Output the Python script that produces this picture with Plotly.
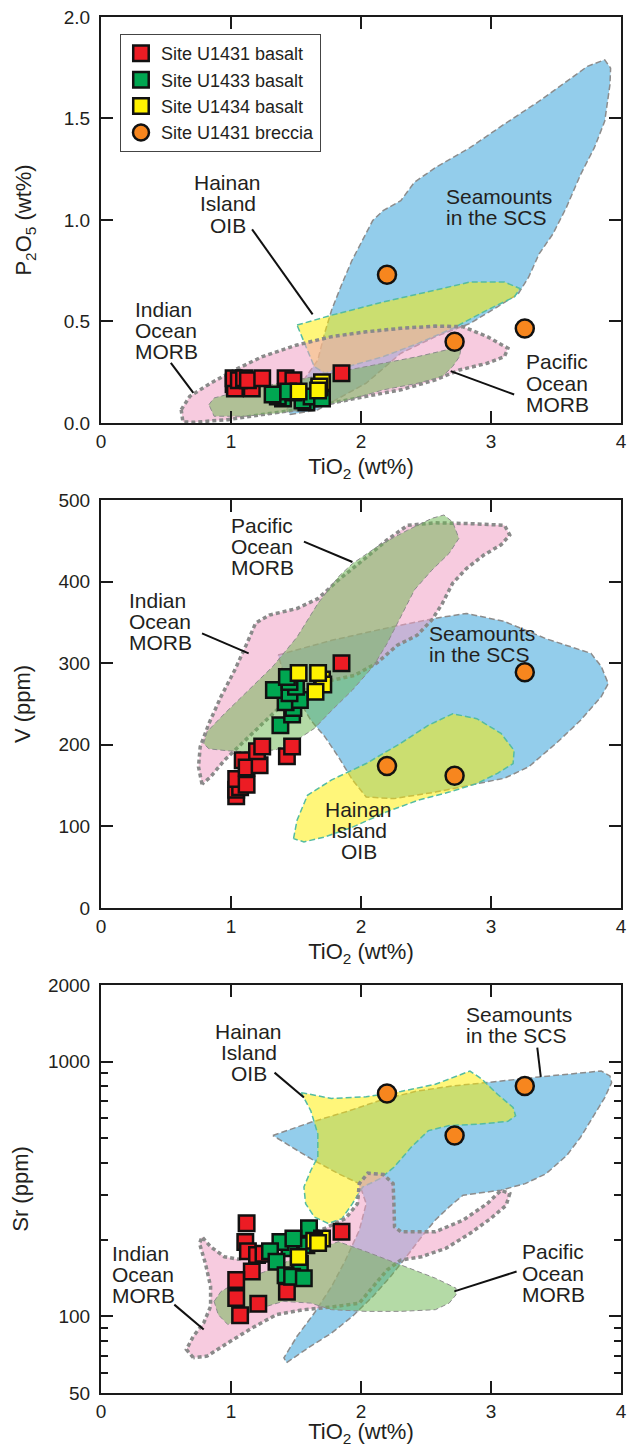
import numpy as np
import plotly.graph_objects as go

FONT = "Liberation Sans, Arial, Helvetica, sans-serif"
INK = "#231f20"

# ================= DATA =================
# ---- Panel 1: TiO2 (wt%) vs P2O5 (wt%) ----
p1_u1431_ti = [1.02, 1.03, 1.02, 1.16, 1.06, 1.10, 1.13, 1.24, 1.45, 1.42, 1.48, 1.85]
p1_u1431_p = [0.19, 0.17, 0.22, 0.17, 0.21, 0.22, 0.21, 0.22, 0.20, 0.22, 0.21, 0.245]
p1_u1433_ti = [1.58, 1.55, 1.40, 1.36, 1.32, 1.48, 1.44, 1.62, 1.70, 1.68]
p1_u1433_p = [0.10, 0.11, 0.12, 0.13, 0.14, 0.15, 0.155, 0.13, 0.12, 0.175]
p1_u1434_ti = [1.70, 1.68, 1.52, 1.67]
p1_u1434_p = [0.20, 0.18, 0.155, 0.16]
p1_brec_ti = [2.20, 2.72, 3.26]
p1_brec_p = [0.73, 0.40, 0.465]

p1_scs_ti = [1.455, 1.668, 2.04, 2.306, 2.572, 2.838, 3.05, 3.21, 3.29, 3.37, 3.476, 3.58, 3.69,
             3.795, 3.875, 3.915, 3.92, 3.875, 3.742, 3.58, 3.37, 3.10, 2.838, 2.572, 2.41, 2.306,
             2.17, 2.09, 2.01, 1.93, 1.854, 1.774, 1.72, 1.668, 1.56, 1.48, 1.43]
p1_scs_p = [0.041, 0.065, 0.196, 0.343, 0.425, 0.49, 0.572, 0.637, 0.719, 0.833, 0.931, 1.062, 1.225,
            1.356, 1.487, 1.667, 1.748, 1.789, 1.757, 1.683, 1.585, 1.471, 1.356, 1.258, 1.185, 1.095,
            1.046, 0.997, 0.899, 0.80, 0.686, 0.556, 0.441, 0.31, 0.212, 0.131, 0.065]
p1_hainan_ti = [1.508, 1.774, 2.173, 2.572, 2.838, 3.104, 3.223, 3.18, 2.97, 2.705, 2.439, 2.173,
                1.907, 1.72, 1.64, 1.574]
p1_hainan_p = [0.482, 0.531, 0.596, 0.654, 0.694, 0.694, 0.662, 0.621, 0.556, 0.466, 0.392, 0.327,
               0.278, 0.245, 0.278, 0.376]
p1_indian_ti = [0.617, 0.683, 0.843, 1.029, 1.242, 1.508, 1.774, 2.04, 2.306, 2.572, 2.785, 2.971,
                3.13, 3.104, 2.971, 2.758, 2.572, 2.306, 2.04, 1.774, 1.508, 1.242, 0.976, 0.71, 0.63]
p1_indian_p = [0.065, 0.131, 0.196, 0.261, 0.327, 0.384, 0.425, 0.449, 0.466, 0.477, 0.474, 0.425,
               0.368, 0.327, 0.294, 0.261, 0.212, 0.163, 0.131, 0.098, 0.065, 0.041, 0.016, 0.003, 0.005]
p1_pacific_ti = [0.83, 0.87, 1.109, 1.375, 1.641, 1.907, 2.173, 2.439, 2.652, 2.771, 2.758, 2.705,
                 2.625, 2.439, 2.173, 1.907, 1.641, 1.375, 1.109, 0.87]
p1_pacific_p = [0.09, 0.123, 0.163, 0.196, 0.229, 0.261, 0.294, 0.327, 0.359, 0.376, 0.327, 0.278,
                0.229, 0.196, 0.163, 0.114, 0.074, 0.049, 0.033, 0.033]

# ---- Panel 2: TiO2 (wt%) vs V (ppm) ----
p2_u1431_ti = [1.04, 1.04, 1.07, 1.04, 1.12, 1.09, 1.12, 1.22, 1.20, 1.24, 1.43, 1.47, 1.85]
p2_u1431_v = [137, 145, 148, 158, 151, 181, 172, 175, 192, 198, 186, 198, 300]
p2_u1433_ti = [1.38, 1.47, 1.48, 1.42, 1.53, 1.45, 1.50, 1.33, 1.45, 1.43]
p2_u1433_v = [224, 237, 245, 252, 255, 263, 271, 267, 277, 283]
p2_u1434_ti = [1.70, 1.71, 1.65, 1.52, 1.67]
p2_u1434_v = [280, 274, 265, 288, 288]
p2_brec_ti = [2.20, 2.72, 3.26]
p2_brec_v = [174, 162, 289]

p2_scs_ti = [1.362, 1.774, 2.253, 2.572, 2.811, 3.104, 3.423, 3.769, 3.848, 3.902, 3.848, 3.689,
             3.503, 3.29, 3.104, 2.891, 2.572, 2.253, 2.04, 1.934, 1.827, 1.721, 1.614, 1.508, 1.40]
p2_scs_v = [310, 328, 345, 355, 361, 351, 330, 312, 296, 275, 259, 230, 202, 173, 159, 152, 142,
            134, 136, 157, 185, 210, 230, 259, 291]
p2_hainan_ti = [1.481, 1.508, 1.588, 1.774, 2.04, 2.306, 2.519, 2.705, 2.891, 3.077, 3.178, 3.17,
                3.05, 2.891, 2.678, 2.439, 2.2, 1.934, 1.721, 1.561]
p2_hainan_v = [85, 107.5, 138, 157, 177, 202, 224, 238, 232, 214, 193, 177, 165, 152.5, 142, 132,
               118, 99, 87, 81]
p2_indian_ti = [0.777, 0.75, 0.763, 0.83, 0.923, 1.029, 1.122, 1.189, 1.295, 1.508, 1.668, 1.827,
                2.013, 2.2, 2.359, 2.572, 2.838, 3.104, 3.144, 3.077, 2.944, 2.811, 2.705, 2.625,
                2.545, 2.43, 2.28, 2.12, 1.95, 1.774, 1.614, 1.481, 1.348, 1.215, 1.082, 0.949, 0.843]
p2_indian_v = [151.7, 173, 197.5, 226, 259, 291.5, 324, 349, 359, 367, 379, 402, 426, 451, 469, 472,
               471, 469, 457, 445, 432.5, 416, 398, 373, 353, 334, 322, 300, 285, 279, 271, 259, 242,
               222, 201.5, 181, 160.7]
p2_pacific_ti = [0.79, 0.816, 0.949, 1.136, 1.322, 1.508, 1.668, 1.827, 1.934, 2.146, 2.359, 2.545,
                 2.638, 2.705, 2.753, 2.678, 2.545, 2.412, 2.306, 2.2, 2.093, 1.934, 1.774, 1.641,
                 1.508, 1.348, 1.162, 0.976, 0.83]
p2_pacific_v = [201.5, 216, 238, 267, 296, 332, 373, 406, 422, 445, 463, 477.5, 481.6, 473, 453,
                434.6, 414, 390, 357, 324, 296, 267, 242, 220, 206, 194, 191, 192.6, 195]

# ---- Panel 3: TiO2 (wt%) vs Sr (ppm), log scale ----
p3_u1431_ti = [1.12, 1.11, 1.13, 1.20, 1.25, 1.16, 1.04, 1.04, 1.21, 1.07, 1.43, 1.85]
p3_u1431_sr = [232, 196, 180, 174, 176, 150, 139, 118, 112, 101, 125, 215]
p3_u1433_ti = [1.60, 1.58, 1.45, 1.38, 1.48, 1.30, 1.35, 1.53, 1.42, 1.47, 1.56]
p3_u1433_sr = [222, 190, 185, 196, 202, 180, 164, 161, 145, 143, 141]
p3_u1434_ti = [1.70, 1.64, 1.67, 1.52]
p3_u1434_sr = [202, 198, 194, 171]
p3_brec_ti = [2.20, 2.72, 3.26]
p3_brec_sr = [750, 513, 803]

p3_scs_ti = [1.322, 1.614, 1.907, 2.173, 2.439, 2.705, 2.971, 3.37, 3.848, 3.915, 3.928, 3.875,
             3.782, 3.689, 3.582, 3.423, 3.263, 3.077, 2.785, 2.678, 2.572, 2.465, 2.359, 2.226,
             2.093, 1.934, 1.774, 1.614, 1.428, 1.407, 1.508, 1.641, 1.774, 1.88, 1.987, 2.04,
             1.987, 1.827, 1.614, 1.402]
p3_scs_sr = [513, 578, 641, 712, 768, 803, 828, 871, 919, 879, 828, 723, 604, 505, 428, 363, 332,
             313, 299, 269, 239, 205, 174, 143, 120, 100, 86, 76.4, 65.8, 68.7, 83.5, 103, 131, 166,
             218, 277, 332, 363, 416, 483]
p3_hainan_ti = [1.54, 1.774, 2.04, 2.306, 2.572, 2.838, 2.931, 3.05, 3.17, 3.189, 3.13, 2.918, 2.678,
                2.519, 2.386, 2.253, 2.146, 2.013, 1.934, 1.854, 1.747, 1.641, 1.574, 1.561, 1.614,
                1.668, 1.668, 1.614]
p3_hainan_sr = [756, 717, 728, 764, 815, 919, 853, 745, 661, 613, 583, 569, 561, 536, 461, 385, 347,
                322, 277, 242, 231.6, 245.6, 277, 322, 374, 422, 520, 641]
p3_indian_ti = [0.71, 0.657, 0.71, 0.79, 0.843, 0.843, 0.803, 0.758, 0.777, 0.843, 0.949, 1.056,
                1.242, 1.508, 1.721, 1.88, 1.973, 1.987, 2.053, 2.173, 2.247, 2.253, 2.258, 2.306,
                2.572, 2.785, 2.971, 3.077, 3.144, 3.117, 2.997, 2.838, 2.652, 2.465, 2.306, 2.2,
                2.093, 1.987, 1.774, 1.561, 1.348, 1.162, 0.976, 0.816]
p3_indian_sr = [68.8, 74.1, 83.5, 94.2, 109.4, 131, 161.5, 193.3, 205.4, 187.6, 171.4, 167.5, 176.6,
                199.3, 221.3, 242, 277, 332, 365, 360.4, 332, 277, 224.7, 214.8, 214.8, 238.6, 277,
                312.6, 303.4, 273, 242, 211.6, 184.9, 171.4, 166.3, 152, 131, 112.7, 108.8, 106.2,
                101.5, 90, 78.7, 69.8]
p3_pacific_ti = [0.87, 0.923, 1.056, 1.295, 1.561, 1.827, 2.04, 2.306, 2.572, 2.731, 2.731, 2.678,
                 2.572, 2.306, 2.04, 1.774, 1.614, 1.402, 1.189, 1.029, 0.976, 0.902]
p3_pacific_sr = [114.5, 125.2, 137, 152, 176.6, 196.3, 179.5, 159.2, 141.2, 129, 121.5, 112.7, 106.2,
                 104.6, 104.6, 106.2, 112.7, 114.5, 106.2, 95.6, 92.8, 101.5]

# tick labels
x_ticks = [0, 1, 2, 3, 4]
p1_ticks = [0.0, 0.5, 1.0, 1.5, 2.0]
p2_ticks = [0, 100, 200, 300, 400, 500]
p3_ticks = [50, 100, 1000, 2000]
p3_minor = [60, 70, 80, 90, 200, 300, 400, 500, 600, 700, 800, 900]

series_names = ["Site U1431 basalt", "Site U1433 basalt", "Site U1434 basalt", "Site U1431 breccia"]

# ================= STYLES =================
FIELD_STYLE = {
    "scs": dict(fill="rgba(128,196,232,0.85)", line=dict(color="#8c8c8c", width=1.5, dash="6px,3px")),
    "hainan": dict(fill="rgba(255,238,0,0.52)", line=dict(color="#55bca2", width=1.5, dash="6px,3px")),
    "indian": dict(fill="rgba(240,160,196,0.55)", line=dict(color="#8a8a8a", width=3.5, dash="4px,3px")),
    "pacific": dict(fill="rgba(105,182,78,0.5)", line=dict(color="#8c8c8c", width=1.0, dash="5px,3px")),
}
MARK = [
    dict(symbol="square", size=15.5, color="#ec1c24"),
    dict(symbol="square", size=15.5, color="#00a651"),
    dict(symbol="square", size=15.5, color="#fff200"),
    dict(symbol="circle", size=18, color="#f7861e"),
]

fig = go.Figure()


def add_field(xs, ys, key, xa, ya):
    st = FIELD_STYLE[key]
    fig.add_trace(go.Scatter(x=xs + xs[:1], y=ys + ys[:1], mode="lines", fill="toself",
                             fillcolor=st["fill"], line=st["line"], hoverinfo="skip",
                             showlegend=False, xaxis=xa, yaxis=ya))


def add_points(xs, ys, idx, xa, ya, legend):
    m = MARK[idx]
    fig.add_trace(go.Scatter(x=xs, y=ys, mode="markers", name=series_names[idx],
                             marker=dict(symbol=m["symbol"], size=m["size"], color=m["color"],
                                         line=dict(color="#111111", width=2.5)),
                             showlegend=legend, xaxis=xa, yaxis=ya))


def add_pointer(xs, ys, xa, ya):
    fig.add_trace(go.Scatter(x=xs, y=ys, mode="lines", line=dict(color="#111111", width=2),
                             hoverinfo="skip", showlegend=False, xaxis=xa, yaxis=ya))


# Panel 1
add_field(p1_scs_ti, p1_scs_p, "scs", "x", "y")
add_field(p1_hainan_ti, p1_hainan_p, "hainan", "x", "y")
add_field(p1_indian_ti, p1_indian_p, "indian", "x", "y")
add_field(p1_pacific_ti, p1_pacific_p, "pacific", "x", "y")
add_pointer([1.162, 1.628], [0.954, 0.535], "x", "y")
add_pointer([0.537, 0.71], [0.296, 0.148], "x", "y")
add_pointer([3.178, 2.69], [0.14, 0.255], "x", "y")
add_points(p1_u1431_ti, p1_u1431_p, 0, "x", "y", True)
add_points(p1_u1433_ti, p1_u1433_p, 1, "x", "y", True)
add_points(p1_u1434_ti, p1_u1434_p, 2, "x", "y", True)
add_points(p1_brec_ti, p1_brec_p, 3, "x", "y", True)

# Panel 2
add_field(p2_scs_ti, p2_scs_v, "scs", "x2", "y2")
add_field(p2_hainan_ti, p2_hainan_v, "hainan", "x2", "y2")
add_field(p2_indian_ti, p2_indian_v, "indian", "x2", "y2")
add_field(p2_pacific_ti, p2_pacific_v, "pacific", "x2", "y2")
add_pointer([1.561, 1.934], [449, 424], "x2", "y2")
add_pointer([0.777, 1.136], [336.5, 312], "x2", "y2")
add_points(p2_u1431_ti, p2_u1431_v, 0, "x2", "y2", False)
add_points(p2_u1433_ti, p2_u1433_v, 1, "x2", "y2", False)
add_points(p2_u1434_ti, p2_u1434_v, 2, "x2", "y2", False)
add_points(p2_brec_ti, p2_brec_v, 3, "x2", "y2", False)

# Panel 3
add_field(p3_scs_ti, p3_scs_sr, "scs", "x3", "y3")
add_field(p3_hainan_ti, p3_hainan_sr, "hainan", "x3", "y3")
add_field(p3_indian_ti, p3_indian_sr, "indian", "x3", "y3")
add_field(p3_pacific_ti, p3_pacific_sr, "pacific", "x3", "y3")
add_pointer([1.335, 1.561], [10 ** 2.957, 10 ** 2.859], "x3", "y3")
add_pointer([3.356, 3.383], [10 ** 3.055, 10 ** 2.940], "x3", "y3")
add_pointer([0.564, 0.79], [10 ** 2.046, 10 ** 1.948], "x3", "y3")
add_pointer([3.197, 2.718], [10 ** 2.176, 10 ** 2.098], "x3", "y3")
add_points(p3_u1431_ti, p3_u1431_sr, 0, "x3", "y3", False)
add_points(p3_u1433_ti, p3_u1433_sr, 1, "x3", "y3", False)
add_points(p3_u1434_ti, p3_u1434_sr, 2, "x3", "y3", False)
add_points(p3_brec_ti, p3_brec_sr, 3, "x3", "y3", False)

# ================= LABELS =================
LAB = dict(size=21, color=INK, family=FONT)


def label(lines, x, ys, xref, yref, anchor):
    for t, y in zip(lines, ys):
        fig.add_annotation(text=t, x=x, y=y, xref=xref, yref=yref, xanchor=anchor,
                           yanchor="middle", showarrow=False, font=LAB, height=21,
                           borderpad=0, align="left" if anchor == "left" else "center")


HAI = ["Hainan", "Island", "OIB"]
SCS = ["Seamounts", "in the SCS"]
IND = ["Indian", "Ocean", "MORB"]
PAC = ["Pacific", "Ocean", "MORB"]

label(HAI, 0.976, [1.184, 1.082, 0.975], "x", "y", "center")
label(SCS, 2.645, [1.115, 1.014], "x", "y", "left")
label(IND, 0.253, [0.559, 0.457, 0.354], "x", "y", "left")
label(PAC, 3.263, [0.301, 0.196, 0.091], "x", "y", "left")

label(PAC, 0.995, [468.5, 442.8, 417.1], "x2", "y2", "left")
label(IND, 0.21, [376.5, 350.8, 325], "x2", "y2", "left")
label(SCS, 2.519, [336.5, 311], "x2", "y2", "left")
label(HAI, 1.981, [120.6, 95.3, 69.5], "x2", "y2", "center")

label(HAI, 1.136, [3.117, 3.035, 2.954], "x3", "y3", "center")
label(SCS, 2.798, [3.185, 3.104], "x3", "y3", "left")
label(IND, 0.077, [2.245, 2.163, 2.082], "x3", "y3", "left")
label(PAC, 3.231, [2.253, 2.169, 2.085], "x3", "y3", "left")

# ================= AXES =================
TICKFONT = dict(size=19, color=INK, family=FONT)
TITLEFONT = dict(size=22, color=INK, family=FONT)
common = dict(showline=True, linewidth=2, linecolor="#1a1a1a", mirror="ticks", ticks="inside",
              ticklen=12, tickwidth=2, tickcolor="#1a1a1a", showgrid=False, zeroline=False,
              tickfont=TICKFONT, automargin=False, ticklabeloverflow="allow")

xtitle = dict(text="TiO<sub>2</sub> (wt%)", font=TITLEFONT, standoff=8)
for name, ya in [("xaxis", "y"), ("xaxis2", "y2"), ("xaxis3", "y3")]:
    fig.layout[name] = dict(common, domain=[0, 1], anchor=ya, range=[0, 4], tickmode="array",
                            tickvals=x_ticks, ticktext=[str(v) for v in x_ticks], title=xtitle)

fig.layout["yaxis"] = dict(common, domain=[0.705, 1.0], anchor="x", range=[0, 2], tickmode="array",
                           tickvals=p1_ticks, ticktext=[f"{v:.1f}" for v in p1_ticks],
                           ticklabelstandoff=5,
                           title=dict(text="P<sub>2</sub>O<sub>5</sub> (wt%)", font=TITLEFONT, standoff=26))
fig.layout["yaxis2"] = dict(common, domain=[0.3525, 0.649], anchor="x2", range=[0, 500], tickmode="array",
                            tickvals=p2_ticks, ticktext=[str(v) for v in p2_ticks],
                            ticklabelstandoff=5,
                            title=dict(text="V (ppm)", font=TITLEFONT, standoff=22))
fig.layout["yaxis3"] = dict(common, domain=[0.0, 0.2965], anchor="x3", type="log",
                            range=[np.log10(50), np.log10(2000)], tickmode="array",
                            tickvals=p3_ticks, ticktext=[str(v) for v in p3_ticks],
                            ticklabelstandoff=5,
                            minor=dict(ticks="inside", ticklen=7, tickwidth=2, tickcolor="#1a1a1a",
                                       tickmode="array", tickvals=p3_minor, showgrid=False),
                            title=dict(text="Sr (ppm)", font=TITLEFONT, standoff=15))

# the page body adds an 8 px offset, so the figure is 8 px smaller on each axis
fig.update_layout(
    width=627, height=1439,
    margin=dict(l=93, r=14, t=9, b=54, autoexpand=False),
    paper_bgcolor="white", plot_bgcolor="white",
    font=dict(family=FONT, color=INK),
    showlegend=True,
    legend=dict(x=0.0365, y=0.9876, xanchor="left", yanchor="top", bgcolor="white",
                bordercolor="#444444", borderwidth=1, font=dict(size=18, color=INK, family=FONT),
                itemsizing="trace"),
)

fig.write_html("out.html")
